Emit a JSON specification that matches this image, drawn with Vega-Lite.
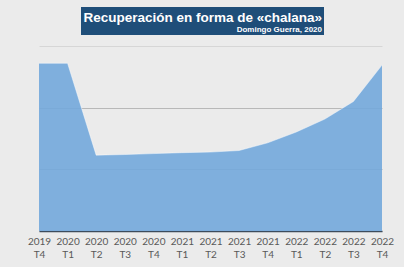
{
  "$schema": "https://vega.github.io/schema/vega-lite/v6.json",
  "background": "#ebebeb",
  "padding": {"left": 11, "right": 11, "top": 7, "bottom": 8},
  "autosize": {"type": "pad"},
  "spacing": 11,
  "config": {"view": {"stroke": null}, "font": "Liberation Sans"},
  "vconcat": [
    {
      "spacing": 0,
      "hconcat": [
        {
          "width": 42,
          "height": 28,
          "data": {"values": [{}]},
          "mark": {"type": "rect", "opacity": 0},
          "encoding": {}
        },
        {
          "width": 243,
          "height": 28,
          "view": {"fill": "#1f4e79", "stroke": null},
          "data": {"values": [{}]},
          "mark": {"type": "rect", "opacity": 0},
          "encoding": {},
          "title": {
            "text": "Recuperación en forma de «chalana»",
            "subtitle": "Domingo Guerra, 2020",
            "anchor": "end",
            "frame": "group",
            "orient": "top",
            "offset": -27,
            "dx": -2,
            "font": "Liberation Sans",
            "fontSize": 13.5,
            "fontWeight": "bold",
            "color": "#ffffff",
            "subtitleFont": "Liberation Sans",
            "subtitleFontSize": 8,
            "subtitleFontWeight": "bold",
            "subtitleColor": "#ffffff",
            "subtitlePadding": 1.5
          }
        }
      ]
    },
    {
      "width": 343,
      "height": 185,
      "data": {
        "values": [
          {"q": "2019 T4", "v": 27.2},
          {"q": "2020 T1", "v": 27.2},
          {"q": "2020 T2", "v": 12.3},
          {"q": "2020 T3", "v": 12.4},
          {"q": "2020 T4", "v": 12.55},
          {"q": "2021 T1", "v": 12.7},
          {"q": "2021 T2", "v": 12.8},
          {"q": "2021 T3", "v": 13.05},
          {"q": "2021 T4", "v": 14.3},
          {"q": "2022 T1", "v": 16.05},
          {"q": "2022 T2", "v": 18.15},
          {"q": "2022 T3", "v": 21.0},
          {"q": "2022 T4", "v": 26.9}
        ]
      },
      "encoding": {
        "x": {
          "field": "q",
          "type": "ordinal",
          "sort": null,
          "scale": {"type": "point", "padding": 0},
          "axis": {
            "title": null,
            "labelExpr": "split(datum.label, ' ')",
            "labelAngle": 0,
            "labelFont": "Lato",
            "labelFontSize": 10,
            "labelColor": "#595959",
            "labelPadding": 5,
            "labelLineHeight": 13,
            "ticks": false,
            "domainColor": "#3d4c5c",
            "domainWidth": 1.5,
            "grid": false
          }
        },
        "y": {
          "field": "v",
          "type": "quantitative",
          "scale": {"domain": [0, 30], "nice": false},
          "axis": {
            "title": null,
            "labels": true,
            "labelColor": "transparent",
            "labelFontSize": 10,
            "labelPadding": 16,
            "labelFlush": true,
            "ticks": false,
            "domain": false,
            "values": [0, 10, 20, 30],
            "gridColor": {"condition": {"test": "datum.value == 30", "value": "#d6d6d6"}, "value": "#b8b8b8"},
            "gridWidth": 1
          }
        }
      },
      "layer": [
        {"mark": {"type": "area", "color": "#73a9db", "opacity": 0.9}},
        {"mark": {"type": "line", "color": "#ffffff", "opacity": 0.45, "strokeWidth": 1}}
      ]
    }
  ]
}
